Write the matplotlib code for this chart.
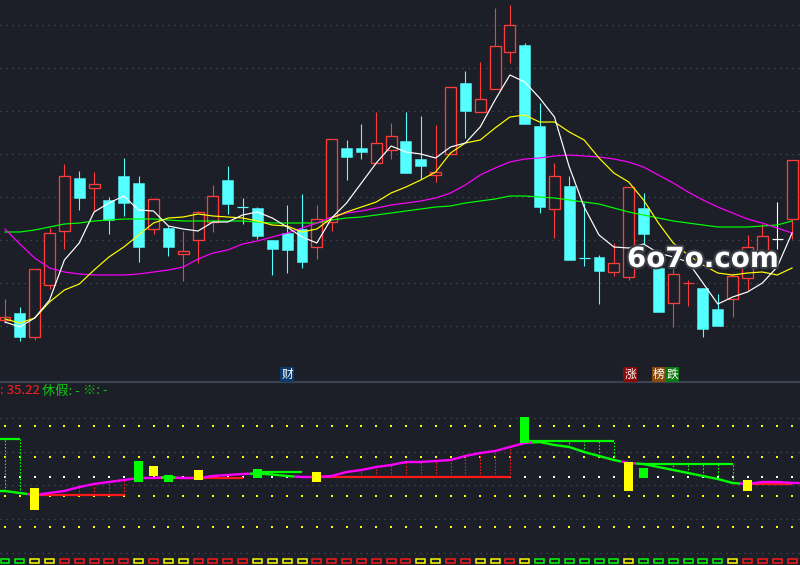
import numpy as np
import matplotlib
matplotlib.use("Agg")
import matplotlib.pyplot as plt
from matplotlib.patches import Rectangle
import matplotlib.patheffects as pe

plt.rcParams['font.family'] = ['Noto Sans CJK SC', 'DejaVu Sans']

# ---------------- K线数据 ----------------
opens = [24.5, 25.2, 22.8, 28.0, 33.4, 38.7, 37.7, 36.5, 38.9, 38.2,
         33.6, 33.7, 31.1, 32.5, 34.3, 38.5, 35.85, 35.7, 32.5, 33.2,
         33.6, 31.8, 34.3, 41.7, 41.7, 40.2, 41.5, 42.4, 40.6, 39.0,
         41.1, 48.2, 45.3, 47.6, 51.3, 52.0, 43.9, 35.6, 37.9, 30.75,
         30.8, 29.3, 28.8, 35.7, 29.7, 26.2, 28.2, 27.7, 25.6, 26.6,
         28.7, 31.4, 32.6, 34.6]
highs = [26.6, 25.8, 29.6, 33.7, 40.1, 39.4, 39.3, 36.8, 40.7, 38.9,
         36.7, 33.9, 33.4, 35.4, 38.0, 39.9, 36.7, 35.8, 32.5, 36.0,
         37.1, 36.0, 42.6, 42.5, 44.1, 45.3, 44.2, 45.3, 44.9, 44.0,
         47.8, 49.4, 50.3, 55.7, 56.0, 52.2, 46.2, 40.2, 38.9, 36.2,
         31.0, 32.2, 37.8, 37.2, 29.9, 29.6, 28.5, 27.7, 27.1, 29.2,
         33.0, 34.1, 36.3, 40.5]
lows = [24.2, 22.4, 22.5, 27.6, 31.6, 35.5, 35.4, 33.1, 34.9, 30.3,
        33.1, 30.9, 28.4, 30.2, 33.3, 35.1, 34.1, 32.6, 29.0, 29.2,
        29.7, 30.6, 33.4, 38.5, 40.6, 40.2, 40.6, 39.2, 38.6, 38.3,
        41.1, 42.7, 45.3, 47.6, 50.2, 44.1, 35.2, 32.7, 30.5, 29.9,
        26.1, 28.9, 28.5, 32.1, 25.3, 23.8, 25.9, 22.8, 23.9, 24.8,
        27.5, 30.2, 31.6, 32.6]
closes = [24.8, 22.8, 29.6, 33.2, 38.9, 36.7, 38.1, 34.5, 36.2, 31.8,
          36.6, 31.8, 31.4, 35.3, 36.9, 36.1, 35.8, 32.9, 31.6, 31.5,
          30.3, 34.6, 42.6, 40.8, 41.3, 42.2, 42.9, 39.2, 39.9, 39.3,
          47.8, 45.4, 46.6, 51.9, 54.0, 44.1, 35.8, 38.9, 30.5, 30.7,
          29.4, 30.2, 37.8, 33.1, 25.3, 29.1, 28.25, 23.6, 23.9, 28.9,
          31.8, 32.9, 32.6, 40.5]

# 均线
ma5 = [24.3, 23.8, 24.7, 26.5, 30.5, 32.2, 35.3, 36.2, 36.9, 35.5,
       35.4, 33.9, 33.6, 33.4, 34.3, 34.3, 35.0, 35.3, 34.7, 33.8,
       32.8, 32.2, 34.7, 36.2, 38.2, 40.2, 41.9, 41.3, 41.1, 40.7,
       41.8, 42.2, 43.8, 46.5, 49.0, 48.3, 46.7, 44.8, 39.8, 35.8,
       33.0, 31.8, 31.7, 32.1, 31.2, 30.8, 30.3, 28.2, 26.1, 26.8,
       27.3, 28.2, 29.8, 33.2]
ma10 = [24.6, 24.2, 24.7, 26.3, 27.5, 28.1, 29.5, 30.8, 31.8, 33.0,
        34.2, 34.7, 34.8, 35.1, 34.9, 34.8, 34.7, 34.4, 34.0, 33.9,
        33.3, 33.6, 34.7, 35.3, 35.8, 36.3, 37.2, 37.8, 38.5, 39.3,
        41.2, 42.2, 42.5, 43.7, 44.8, 45.0, 44.3, 44.3, 43.3, 42.5,
        40.7, 39.2, 38.3, 36.5, 34.2, 32.2, 31.0, 30.0, 29.2, 29.0,
        29.2, 29.3, 29.0, 29.7]
ma20 = [33.6, 32.1, 30.7, 29.7, 29.3, 29.1, 29.0, 29.0, 29.0, 29.1,
        29.3, 29.5, 29.8, 30.6, 31.2, 31.5, 32.1, 32.4, 32.8, 33.2,
        33.7, 34.2, 34.8, 35.2, 35.4, 35.7, 36.0, 36.2, 36.4, 36.7,
        37.2, 38.0, 39.0, 39.7, 40.3, 40.6, 40.7, 40.9, 41.0, 40.9,
        40.8, 40.6, 40.3, 39.8, 39.0, 38.2, 37.3, 36.5, 35.8, 35.2,
        34.6, 34.2, 33.7, 33.2]
ma60 = [33.3, 33.3, 33.5, 33.8, 34.1, 34.2, 34.4, 34.5, 34.6, 34.6,
        34.6, 34.5, 34.4, 34.4, 34.4, 34.4, 34.4, 34.3, 34.2, 34.2,
        34.2, 34.2, 34.5, 34.7, 34.8, 35.0, 35.2, 35.4, 35.6, 35.8,
        35.9, 36.2, 36.4, 36.6, 36.9, 36.9, 36.8, 36.7, 36.5, 36.3,
        36.1, 35.7, 35.3, 35.0, 34.7, 34.4, 34.2, 34.0, 33.8, 33.8,
        33.8, 33.9, 34.0, 34.4]

# ---------------- 副图指标 ----------------
trend = [7.4, 7.2, 7.0, 7.2, 7.4, 7.8, 8.1, 8.3, 8.5, 8.7,
         8.7, 8.8, 8.7, 8.7, 8.9, 9.0, 9.1, 9.15, 9.05, 8.9,
         8.8, 8.8, 8.9, 9.3, 9.5, 9.8, 10.0, 10.3, 10.3, 10.4,
         10.5, 10.9, 11.2, 11.4, 11.8, 12.2, 12.3, 12.0, 11.8, 11.3,
         10.9, 10.5, 10.2, 10.1, 9.8, 9.5, 9.2, 8.9, 8.6, 8.2,
         8.1, 8.3, 8.3, 8.2]
# 1 = 上升(紫), -1 = 下降(绿)
trend_state = [-1, -1, 1, 1, 1, 1, 1, 1, 1, 1,
               1, -1, 1, 1, 1, 1, 1, -1, -1, -1,
               1, 1, 1, 1, 1, 1, 1, 1, 1, 1,
               1, 1, 1, 1, 1, 1, -1, -1, -1, -1,
               -1, -1, 1, -1, -1, -1, -1, -1, -1, -1,
               1, 1, 1, 1]

# 信号柱: 0 = 黄, -1 = 绿
sig_idx = [2, 9, 10, 11, 13, 17, 21, 35, 42, 43, 50]
sig_top = [7.7, 10.4, 9.9, 9.0, 9.5, 9.6, 9.3, 14.8, 10.3, 9.7, 8.5]
sig_bot = [5.5, 8.3, 8.9, 8.3, 8.5, 8.7, 8.3, 12.2, 7.4, 8.7, 7.4]
sig_kind = [0, -1, 0, -1, 0, -1, 0, -1, 0, -1, 0]

# 参考线: 1 = 红, -1 = 绿
ref_start = [-1, 2, 10, 17, 21, 35, 43, 50]
ref_end = [1, 8, 16, 20, 34, 41, 49, 53]
ref_level = [12.6, 7.0, 8.7, 9.3, 8.8, 12.4, 10.1, 8.1]
ref_kind = [-1, 1, 1, -1, 1, -1, -1, 1]

# 底部状态框: 1 = 红, 0 = 黄, -1 = 绿
box_state = [-1, -1, 0, 0, 1, 1, 1, 1, 1, 0,
             1, 0, 0, 1, 1, 1, 1, 0, 0, 0,
             0, 1, 1, 1, 1, 1, 1, 1, 0, 0,
             1, 1, 0, 0, 1, 0, -1, -1, -1, -1,
             -1, -1, 0, -1, -1, -1, -1, -1, -1, 0,
             1, 1, 1, 1]

# ---------------- 样式 ----------------
BG = '#1c1f27'
RED = '#ff3c3c'
CYAN = '#54ffff'
GRID = '#4a4f5b'
PX = 0.72  # 1 像素对应的磅值

n = len(closes)
xs = np.arange(n)

fig = plt.figure(figsize=(8, 5.65), dpi=100, facecolor=BG)
ax = fig.add_axes([0, 183 / 565, 1, 382 / 565])
ax2 = fig.add_axes([0, 0, 1, 183 / 565])
for a in (ax, ax2):
    a.set_facecolor(BG)
    a.set_xlim(-0.3367, 53.535)
    a.set_xticks([])
    a.set_yticks([])
    for s in a.spines.values():
        s.set_visible(False)
ax.set_ylim(18.3, 56.5)
ax2.set_ylim(0, 18.3)

# 主图网格
for g in [23.9, 28.2, 32.5, 36.8, 41.1, 45.4, 49.7, 54.0]:
    ax.axhline(g, color=GRID, lw=PX * 1.2, ls=(0, (1, 4)), zorder=0)

# K线
bw = 0.74
for i in range(n):
    o, h, l, c = opens[i], highs[i], lows[i], closes[i]
    if c > o:
        col = RED
    elif c < o:
        col = CYAN
    else:
        col = 'white'
    top, bot = max(o, c), min(o, c)
    ax.vlines(i, l, h, color=col, lw=PX * 1.1, zorder=2)
    if top - bot < 0.15:
        ax.hlines((o + c) / 2, i - bw / 2, i + bw / 2, color=col, lw=PX * 1.2, zorder=3)
    elif c > o:
        ax.add_patch(Rectangle((i - bw / 2, bot), bw, top - bot, facecolor=BG,
                               edgecolor=col, lw=PX * 1.3, zorder=3))
    else:
        ax.add_patch(Rectangle((i - bw / 2, bot), bw, top - bot, facecolor=col,
                               edgecolor=col, lw=PX * 0.5, zorder=3))

# 均线
ax.plot(xs, ma60, color='#00ff00', lw=PX * 1.2, zorder=4)
ax.plot(xs, ma20, color='#ff00ff', lw=PX * 1.2, zorder=4)
ax.plot(xs, ma10, color='#ffff00', lw=PX * 1.2, zorder=4)
ax.plot(xs, ma5, color='white', lw=PX * 1.2, zorder=4)

# 水印
fig.text(703 / 800, 1 - 259 / 565, '6o7o.com', ha='center', va='center',
         fontsize=20, fontweight='bold', color='white', family='DejaVu Sans',
         path_effects=[pe.withStroke(linewidth=3, foreground='#3a3d44')], zorder=10)

# 信息标签
for txt, xp, fc in [('财', 287, '#0d3a6c'), ('涨', 630, '#8a0a0a'),
                    ('榜', 659, '#8a4a0c'), ('跌', 672, '#0b7a12')]:
    fig.text(xp / 800, 1 - 374.5 / 565, txt, ha='center', va='center', fontsize=8.5,
             color='white', bbox=dict(facecolor=fc, edgecolor='none', pad=0.6))

# 分隔线
fig.add_artist(plt.Line2D([0, 1], [183 / 565, 183 / 565], color='#3b4350', lw=1.6,
                          transform=fig.transFigure))

# ---------------- 副图 ----------------
for g in [1.2, 4.6, 8.0, 11.3, 14.7]:
    ax2.axhline(g, color=GRID, lw=PX * 1.2, ls=(0, (1, 4)), zorder=0)
for lv in [3.8, 6.9, 10.8, 13.9]:
    ax2.scatter(xs, [lv] * n, s=1.3, marker='s', color='#ffff00', lw=0, zorder=1)
ax2.scatter(xs, [8.8] * n, s=1.3, marker='s', color='white', lw=0, zorder=1)

tv = np.array(trend)
for s, e, lv, k in zip(ref_start, ref_end, ref_level, ref_kind):
    col = '#ff1a1a' if k > 0 else '#00ff00'
    ax2.hlines(lv, s, e, color=col, lw=PX * 2.2, zorder=3)
    for j in range(max(s, 0), e + 1):
        if abs(tv[j] - lv) >= 0.55:
            ax2.vlines(j, min(tv[j], lv), max(tv[j], lv), color=col, lw=PX * 1.1,
                       ls=(0, (1.5, 1.5)), zorder=2)

mids = (tv[:-1] + tv[1:]) / 2
for i in range(n):
    px = [i - 0.5, i, i + 0.5]
    py = [mids[i - 1] if i > 0 else tv[0], tv[i], mids[i] if i < n - 1 else tv[i]]
    ax2.plot(px, py, color='#ff00ff' if trend_state[i] > 0 else '#00ff00',
             lw=PX * 2.4, solid_capstyle='butt', zorder=4)

sw = 0.606
for i, t, b, k in zip(sig_idx, sig_top, sig_bot, sig_kind):
    ax2.add_patch(Rectangle((i - sw / 2, b), sw, t - b, lw=0,
                            facecolor='#ffff00' if k == 0 else '#00ff00', zorder=5))

box_col = {1: '#ff1a1a', 0: '#ffff00', -1: '#00ff00'}
for i, st in enumerate(box_state):
    ax2.add_patch(Rectangle((i - sw / 2, 0.17), sw, 0.46, facecolor='none',
                            edgecolor=box_col[st], lw=PX * 1.5, zorder=5))

# 副图标题
fig.text(0.0, 1 - 391 / 565, ': 35.22', color='#ff2020', fontsize=9.5, va='center')
fig.text(42 / 800, 1 - 391 / 565, '休假: -', color='#10c810', fontsize=9.5, va='center')
fig.text(83 / 800, 1 - 391 / 565, '※: -', color='#10c810', fontsize=9.5, va='center')

fig.savefig('out.png', dpi=100, facecolor=BG)
